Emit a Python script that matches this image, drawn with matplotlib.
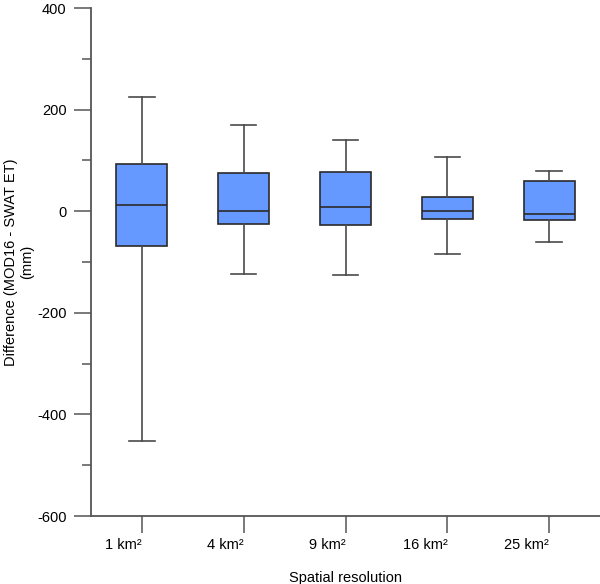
import matplotlib
matplotlib.use("Agg")
import matplotlib.pyplot as plt
import matplotlib.transforms as mtransforms
from matplotlib.ticker import MultipleLocator

plt.rcParams['font.family'] = ['Liberation Sans', 'DejaVu Sans']
plt.rcParams['axes.unicode_minus'] = False

categories = ["1 km²", "4 km²", "9 km²", "16 km²", "25 km²"]
whisker_low = [-452, -123, -126, -85, -60]
q1 = [-69, -25, -28, -15, -18]
median = [12, 0, 8, 0, -5]
q3 = [92, 75, 77, 28, 59]
whisker_high = [224, 170, 140, 106, 79]

stats = []
for i, c in enumerate(categories):
    stats.append(dict(label=c, whislo=whisker_low[i], q1=q1[i], med=median[i],
                      q3=q3[i], whishi=whisker_high[i], fliers=[]))

fig = plt.figure(figsize=(6.0, 5.84), dpi=100)
ax = fig.add_axes([91/600, 1-516/584, 1-91/600, (516-8)/584])

edge = "#2a2a2a"
wcol = "#4a4a4a"
ax.bxp(stats, positions=range(1, len(categories)+1), widths=0.5, patch_artist=True,
       showfliers=False,
       boxprops=dict(facecolor="#6699FF", edgecolor=edge, linewidth=1.2),
       medianprops=dict(color=edge, linewidth=1.2),
       whiskerprops=dict(color=wcol, linewidth=1.2),
       capprops=dict(color=wcol, linewidth=1.2))

ax.set_xlim(0.5, len(categories)+0.5)
ax.set_ylim(-600, 400)
ax.yaxis.set_major_locator(MultipleLocator(200))
ax.yaxis.set_minor_locator(MultipleLocator(100))
ax.set_xticks(range(1, len(categories)+1))
ax.set_xticklabels(categories, ha='right')
offset = mtransforms.ScaledTranslation(3/100, 0, fig.dpi_scale_trans)
for lab in ax.get_xticklabels():
    lab.set_transform(lab.get_transform() + offset)

for s in ["top", "right"]:
    ax.spines[s].set_visible(False)
for s in ["left", "bottom"]:
    ax.spines[s].set_color("#555555")
    ax.spines[s].set_linewidth(1.3)

ax.tick_params(axis='both', which='major', length=12.5, width=1.1, color="#555555",
               labelsize=10.5, pad=5)
ax.tick_params(axis='y', which='minor', length=6.5, width=1.1, color="#555555")
ax.tick_params(axis='x', which='major', pad=3)

ax.set_ylabel("Difference (MOD16 - SWAT ET)\n(mm)", fontsize=10.5, labelpad=2)
ax.set_xlabel("Spatial resolution", fontsize=10.5, labelpad=14)

fig.savefig("out.png", dpi=100)
